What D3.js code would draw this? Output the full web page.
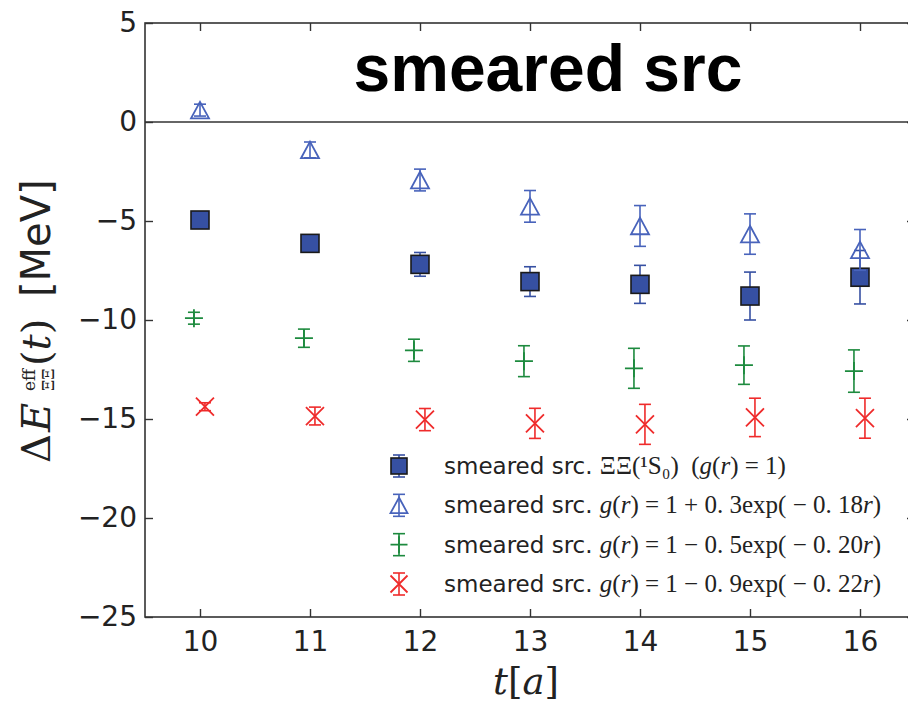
<!DOCTYPE html>
<html>
<head>
<meta charset="utf-8">
<script src="https://cdn.jsdelivr.net/npm/d3@7"></script>
<style>
  body { margin: 0; background: #fff; }
  svg { display: block; }
</style>
</head>
<body>
<div id="chart"></div>
<script>
// data
const tValues = [10, 11, 12, 13, 14, 15, 16];

const squareVals = [-4.95, -6.13, -7.19, -8.06, -8.20, -8.79, -7.84];
const squareErrs = [0.15, 0.2, 0.6, 0.75, 0.96, 1.21, 1.35];

const triVals = [0.6, -1.41, -2.93, -4.26, -5.25, -5.66, -6.46];
const triErrs = [0.3, 0.4, 0.55, 0.8, 1.03, 1.02, 1.03];

const greenVals = [-9.91, -10.92, -11.53, -12.08, -12.44, -12.28, -12.58];
const greenErrs = [0.3, 0.46, 0.56, 0.78, 1.01, 0.97, 1.07];

const redVals = [-14.38, -14.85, -15.03, -15.22, -15.27, -14.92, -14.96];
const redErrs = [0.2, 0.45, 0.56, 0.76, 1.01, 0.97, 1.01];

const yTicks = [5, 0, -5, -10, -15, -20, -25];
const xTicks = tValues;

const legendPrefix = "smeared src.";
const legendMath = [
    "ΞΞ(¹S₀)  (g(r) = 1)",
    "g(r) = 1 + 0. 3exp( − 0. 18r)",
    "g(r) = 1 − 0. 5exp( − 0. 20r)",
    "g(r) = 1 − 0. 9exp( − 0. 22r)"
];

const chartTitle = "smeared src";

const width = 908, height = 704;
const plotLeft = 145, plotRight = 915, plotTop = 23, plotBottom = 617;

const svg = d3.select("#chart").append("svg")
    .attr("width", width)
    .attr("height", height);

const x = d3.scaleLinear().domain([9.5, 16.5]).range([plotLeft, plotRight]);
const y = d3.scaleLinear().domain([-25, 5]).range([plotBottom, plotTop]);

const axisColor = "#333";
const blue = "#3650a2";
const blueLight = "#4863bb";
const green = "#1d8a3e";
const red = "#ef2b2b";

// series definitions (x offset as in the figure: green a bit left, red a bit right)
const series = [
    { vals: squareVals, errs: squareErrs, dx: 0, color: blue, marker: "square" },
    { vals: triVals, errs: triErrs, dx: 0, color: blueLight, marker: "triangle" },
    { vals: greenVals, errs: greenErrs, dx: -0.055, color: green, marker: "plus" },
    { vals: redVals, errs: redErrs, dx: 0.045, color: red, marker: "cross" }
];

// zero line
svg.append("line")
    .attr("x1", plotLeft).attr("x2", plotRight)
    .attr("y1", y(0)).attr("y2", y(0))
    .attr("stroke", axisColor).attr("stroke-width", 1.6);

function drawMarker(g, type, cx, cy, color, s) {
    if (type === "square") {
        g.append("rect")
            .attr("x", cx - s / 2).attr("y", cy - s / 2)
            .attr("width", s).attr("height", s)
            .attr("fill", color).attr("stroke", "#1a1a1a").attr("stroke-width", 1.6);
    } else if (type === "triangle") {
        const h = s * 0.92;
        g.append("path")
            .attr("d", `M${cx},${cy - h / 2}L${cx + s / 2},${cy + h / 2}L${cx - s / 2},${cy + h / 2}Z`)
            .attr("fill", "none").attr("stroke", color).attr("stroke-width", 1.8);
    } else if (type === "plus") {
        g.append("path")
            .attr("d", `M${cx - s / 2},${cy}H${cx + s / 2}M${cx},${cy - s / 2}V${cy + s / 2}`)
            .attr("stroke", color).attr("stroke-width", 1.8);
    } else {
        const r = s / 2;
        g.append("path")
            .attr("d", `M${cx - r},${cy - r}L${cx + r},${cy + r}M${cx - r},${cy + r}L${cx + r},${cy - r}`)
            .attr("stroke", color).attr("stroke-width", 1.8);
    }
}

function drawErrorBar(g, cx, y1, y2, color, cap) {
    g.append("line")
        .attr("x1", cx).attr("x2", cx).attr("y1", y1).attr("y2", y2)
        .attr("stroke", color).attr("stroke-width", 1.6);
    [y1, y2].forEach(yy => {
        g.append("line")
            .attr("x1", cx - cap / 2).attr("x2", cx + cap / 2)
            .attr("y1", yy).attr("y2", yy)
            .attr("stroke", color).attr("stroke-width", 1.6);
    });
}

series.forEach(s => {
    const g = svg.append("g");
    tValues.forEach((t, i) => {
        const cx = x(t + s.dx);
        drawErrorBar(g, cx, y(s.vals[i] + s.errs[i]), y(s.vals[i] - s.errs[i]), s.color, 12);
    });
    tValues.forEach((t, i) => {
        drawMarker(g, s.marker, x(t + s.dx), y(s.vals[i]), s.color, 18);
    });
});

// frame
svg.append("rect")
    .attr("x", plotLeft).attr("y", plotTop)
    .attr("width", plotRight - plotLeft).attr("height", plotBottom - plotTop)
    .attr("fill", "none").attr("stroke", axisColor).attr("stroke-width", 1.6);

// axes with inward ticks
const tickLen = 8;
svg.append("g")
    .attr("transform", `translate(0,${plotBottom})`)
    .call(d3.axisBottom(x).tickValues(xTicks).tickSize(-tickLen).tickPadding(14).tickFormat(d3.format("d")))
    .call(g => g.select(".domain").remove());
svg.append("g")
    .attr("transform", `translate(0,${plotTop})`)
    .call(d3.axisTop(x).tickValues(xTicks).tickSize(-tickLen).tickFormat(""))
    .call(g => g.select(".domain").remove());
svg.append("g")
    .attr("transform", `translate(${plotLeft},0)`)
    .call(d3.axisLeft(y).tickValues(yTicks).tickSize(-tickLen).tickPadding(8).tickFormat(d => d3.format("d")(d).replace("-", "\u2212")))
    .call(g => g.select(".domain").remove());
svg.append("g")
    .attr("transform", `translate(${plotRight},0)`)
    .call(d3.axisRight(y).tickValues(yTicks).tickSize(-tickLen).tickFormat(""))
    .call(g => g.select(".domain").remove());

svg.selectAll(".tick line").attr("stroke", axisColor).attr("stroke-width", 1.4);
svg.selectAll(".tick text")
    .attr("font-family", "DejaVu Sans")
    .attr("font-size", 28)
    .attr("fill", "#222");

// title inside the plot
svg.append("text")
    .attr("x", 548).attr("y", 91)
    .attr("text-anchor", "middle")
    .attr("font-family", "Liberation Sans, Arial, sans-serif")
    .attr("font-weight", "bold")
    .attr("font-size", 66)
    .attr("fill", "#000")
    .text(chartTitle);

// x label t[a]
const serif = "DejaVu Serif, Liberation Serif, serif";
const xl = svg.append("text")
    .attr("x", 526).attr("y", 694)
    .attr("text-anchor", "middle")
    .attr("font-family", serif)
    .attr("font-size", 37)
    .attr("fill", "#222");
xl.append("tspan").attr("font-style", "italic").text("t");
xl.append("tspan").text("[");
xl.append("tspan").attr("font-style", "italic").text("a");
xl.append("tspan").text("]");

// y label, rotated
const yl = svg.append("g")
    .attr("transform", "translate(50,321) rotate(-90)")
    .attr("fill", "#222");
yl.append("text").attr("x", -142).attr("y", 0)
    .attr("font-family", serif).attr("font-size", 40).text("Δ");
yl.append("text").attr("x", -111).attr("y", 0)
    .attr("font-family", serif).attr("font-style", "italic").attr("font-size", 40).text("E");
yl.append("text").attr("x", -70).attr("y", -15)
    .attr("font-family", serif).attr("font-size", 17).text("eff");
yl.append("text").attr("x", -70).attr("y", 4)
    .attr("font-family", serif).attr("font-size", 16).text("ΞΞ");
const yParen = yl.append("text").attr("x", -45).attr("y", 0)
    .attr("font-family", serif).attr("font-size", 40);
yParen.append("tspan").text("(");
yParen.append("tspan").attr("font-style", "italic").text("t");
yParen.append("tspan").text(")");
yl.append("text").attr("x", 24).attr("y", 0)
    .attr("font-family", "DejaVu Sans").attr("font-size", 40)
    .text("[MeV]");

// legend
const mathFont = "Liberation Serif, serif";
const legendRowY = d3.scaleLinear().domain([0, 3]).range([466, 584]);
const legend = svg.append("g");
series.forEach((s, i) => {
    const cy = legendRowY(i);
    drawErrorBar(legend, 399, cy - 11, cy + 11, s.color, 12);
    drawMarker(legend, s.marker, 399, cy, s.color, s.marker === "square" ? 16 : 17);

    const txt = legend.append("text")
        .attr("x", 444).attr("y", cy + 8)
        .attr("fill", "#222");
    txt.append("tspan").attr("font-family", "DejaVu Sans").attr("font-size", 23)
        .style("white-space", "pre").text(legendPrefix + " ");
    const tokens = legendMath[i].match(/exp|[a-z]|[^a-z]+/g);
    tokens.forEach(tok => {
        const sp = txt.append("tspan")
            .attr("font-family", mathFont)
            .attr("font-size", 25)
            .style("white-space", "pre")
            .text(tok);
        if (/^[a-z]$/.test(tok)) sp.attr("font-style", "italic");
    });
});
</script>
</body>
</html>
